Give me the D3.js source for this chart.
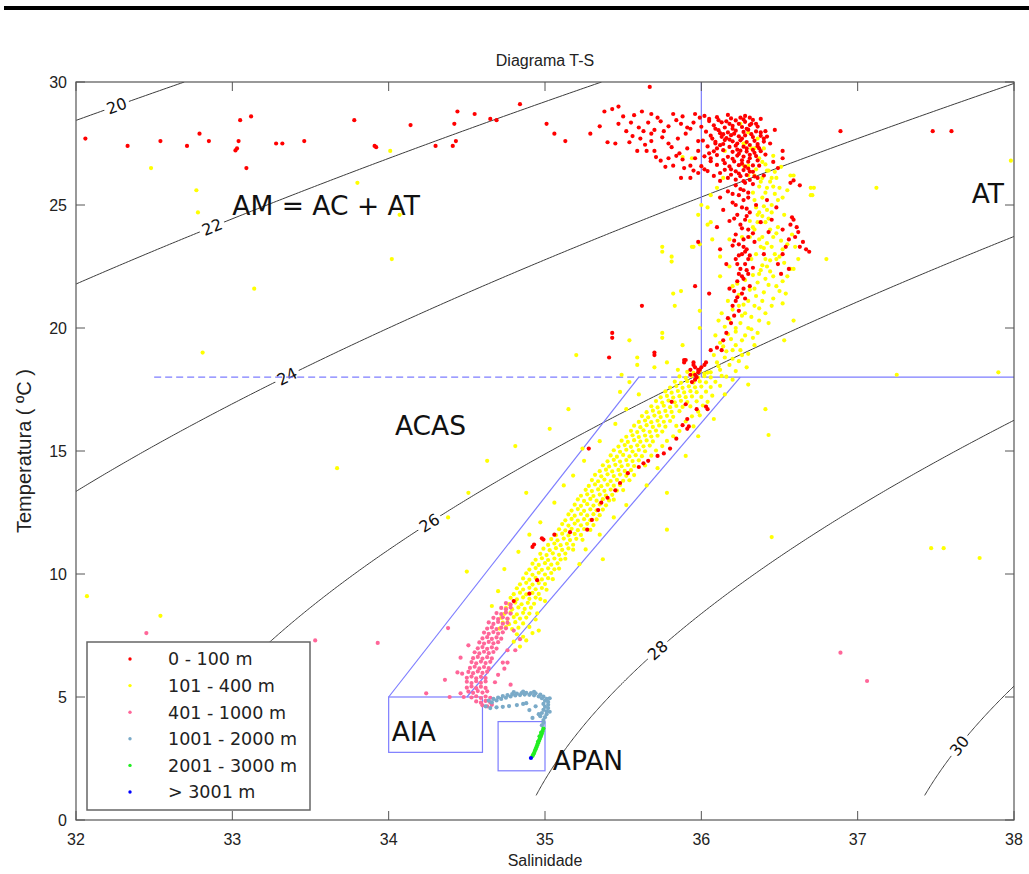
<!DOCTYPE html>
<meta charset="utf-8">
<style>
body { margin: 0; background: #fff; }
.tick { font-family: "Liberation Sans", Arial, sans-serif; font-size: 16px; fill: #222; }
.mass { font-family: "DejaVu Sans", Verdana, sans-serif; font-size: 26.5px; fill: #111; }
.clab { font-family: "DejaVu Sans", Verdana, sans-serif; font-size: 16px; fill: #111; }
.leg { font-family: "DejaVu Sans", Verdana, sans-serif; font-size: 17.5px; fill: #222; }
</style>
<body>
<script src="https://d3js.org/d3.v7.min.js"></script>
<script>

// axis ticks
var salTicks = [32, 33, 34, 35, 36, 37, 38];
var tempTicks = [0, 5, 10, 15, 20, 25, 30];

// sigma-t isolines and the salinity where each label sits
var sigmaLevels = [20, 22, 24, 26, 28, 30];
var sigmaLabelSal = [32.26, 32.87, 33.35, 34.26, 35.72, 37.65];

// depth classes
var depthLabels = ["0 - 100 m", "101 - 400 m", "401 - 1000 m", "1001 - 2000 m", "2001 - 3000 m", "> 3001 m"];
var depthColors = ["#ff0000", "#ffff00", "#ff6699", "#7aaac8", "#22ee22", "#0000ff"];

// water masses
var massLabels = ["AM = AC + AT", "AT", "ACAS", "AIA", "APAN"];
var massS = [33.0, 37.73, 34.04, 34.02, 35.05];
var massT = [24.6, 25.1, 15.65, 3.2, 2.03];

// water mass limits (salinity, temperature)
var frontDashed = [[32.5, 18], [36, 18]];
var frontSolid = [[[36, 18], [38, 18]], [[36, 18], [36, 30]]];
var acasEdges = [[[34.0, 5], [35.6, 18]], [[34.5, 5], [36.25, 18]]];
var aiaBox = [34.0, 34.6, 2.75, 5.0];
var apanBox = [34.7, 35.0, 2.0, 4.0];

// S, T pairs
var d0_100 = [
32.06,27.70, 32.33,27.40, 32.54,27.60, 32.71,27.40, 32.79,27.90, 32.85,27.60, 33.03,27.30, 33.02,27.22, 33.04,27.60, 33.05,28.45,
33.12,28.60, 33.09,26.50, 33.28,27.50, 33.32,27.50, 33.46,27.60, 33.78,28.45, 33.91,27.40, 33.92,27.35, 34.14,28.25, 34.30,27.40,
34.41,27.40, 34.42,28.30, 34.44,28.80, 34.43,27.60, 34.55,28.70, 34.65,28.50, 34.84,29.10, 34.69,28.45, 35.01,28.30, 35.06,27.90,
35.13,27.60, 35.29,27.90, 35.35,28.20, 35.43,28.90, 35.67,29.80, 36.89,28.00, 37.48,28.00, 37.60,28.00,
35.38,28.80, 35.47,29.00, 35.47,28.30, 35.57,28.65, 35.62,28.80, 35.68,28.70, 35.72,28.55, 35.45,27.50, 35.54,27.55, 35.63,28.00,
35.68,27.90, 35.59,27.20, 35.65,27.20, 35.70,27.20, 35.74,26.80, 35.79,26.90, 35.84,27.00, 35.87,26.10, 35.93,26.10, 35.89,26.50,
35.79,27.50, 35.85,27.70, 35.79,28.20, 35.74,28.40, 35.87,28.30, 35.93,28.10, 35.91,27.30, 35.96,26.90, 35.61,27.70, 35.52,28.00,
35.68,27.60, 35.82,28.70, 35.88,28.60, 35.96,28.70, 35.93,26.60, 35.82,26.60, 35.86,27.10, 35.40,27.55, 35.50,28.60, 35.76,28.00,
35.98,27.60, 35.95,28.35, 35.71,26.95, 35.66,28.35,
35.55,28.35, 35.60,28.15, 35.70,28.05, 35.75,27.75, 35.81,27.35, 35.64,27.45, 35.56,27.80, 35.90,27.90, 35.84,28.45, 35.99,28.55,
35.98,27.20, 35.95,26.40, 35.88,26.85, 35.77,26.55, 35.91,28.15,
36.02,28.62, 36.10,28.57, 36.17,28.66, 36.25,28.55, 36.05,28.41, 36.13,28.36, 36.22,28.44, 36.28,28.38, 36.33,28.46,
36.00,28.18, 36.08,28.24, 36.15,28.15, 36.20,28.22, 36.26,28.17, 36.31,28.25, 36.36,28.19,
36.03,27.98, 36.11,28.04, 36.17,27.95, 36.22,28.02, 36.27,27.97, 36.30,28.06, 36.35,27.99,
36.06,27.82, 36.13,27.77, 36.19,27.84, 36.24,27.79, 36.28,27.83, 36.33,27.76, 36.38,27.81, 36.42,27.78,
36.01,27.62, 36.09,27.57, 36.15,27.64, 36.20,27.59, 36.25,27.63, 36.29,27.56, 36.34,27.61, 36.40,27.58,
36.04,27.38, 36.12,27.43, 36.18,27.36, 36.22,27.41, 36.27,27.37, 36.31,27.44, 36.36,27.39,
36.08,27.18, 36.14,27.23, 36.20,27.16, 36.25,27.21, 36.29,27.17, 36.33,27.24, 36.38,27.19,
36.02,26.98, 36.10,27.03, 36.17,26.96, 36.23,27.01, 36.27,26.97, 36.31,27.04, 36.35,26.99,
36.06,26.78, 36.14,26.83, 36.21,26.77, 36.26,26.82, 36.30,26.76, 36.36,26.81,
36.00,26.58, 36.10,26.63, 36.18,26.57, 36.24,26.62, 36.28,26.56, 36.33,26.61,
36.04,26.38, 36.15,26.43, 36.22,26.37, 36.27,26.42, 36.31,26.36,
36.08,26.18, 36.19,26.23, 36.25,26.17, 36.29,26.22, 36.34,26.16,
36.12,25.98, 36.22,26.03, 36.27,25.97, 36.31,26.02,
36.19,28.52, 36.24,28.30, 36.29,28.10, 36.21,27.90, 36.26,27.70, 36.23,27.50, 36.29,27.30, 36.24,27.08, 36.20,26.88, 36.26,26.68,
36.30,26.48, 36.24,26.28, 36.16,27.72, 36.14,27.48, 36.12,27.92, 36.18,28.30, 36.32,27.88, 36.36,27.48, 36.34,27.12, 36.31,26.90,
36.28,28.62, 36.07,27.70,
36.05,28.50, 36.11,28.45, 36.16,28.40, 36.27,28.48, 36.32,28.30, 36.09,28.10, 36.14,27.88, 36.18,27.66, 36.23,27.25, 36.10,27.30,
36.05,27.10, 36.15,26.70, 36.19,26.45, 36.12,26.30, 36.17,26.10, 36.02,26.45, 35.98,26.30, 36.06,26.90, 36.09,27.50, 36.20,28.10,
36.31,28.55, 36.35,28.30, 36.38,27.95, 36.40,27.70, 36.37,27.30, 36.41,27.05, 36.37,26.60, 36.33,26.35, 36.36,26.10,
36.41,28.00, 36.46,26.75, 36.52,27.20, 36.52,26.90, 36.49,26.50, 36.59,26.00, 36.63,25.80, 36.57,25.90, 36.40,26.20, 36.44,27.50,
36.47,28.05, 36.38,28.50,
36.22,25.80, 36.27,25.60, 36.24,25.40, 36.30,25.30, 36.20,25.10, 36.26,24.90, 36.31,24.70, 36.23,24.60, 36.28,24.40, 36.25,24.20,
36.30,24.00, 36.22,23.80, 36.27,23.60, 36.24,23.40, 36.29,23.20, 36.26,23.00, 36.22,22.80, 36.28,22.60, 36.25,22.40, 36.30,22.20,
36.27,22.00, 36.31,21.70, 36.26,21.40, 36.22,21.10, 36.20,20.90, 36.21,20.50, 36.19,20.20, 36.16,19.80, 36.14,19.50, 36.10,19.20,
36.06,19.10, 36.03,18.60, 35.99,18.30, 35.96,18.10, 35.97,18.00,
36.28,25.90, 36.25,25.65, 36.30,25.50, 36.20,25.45, 36.27,25.20, 36.22,25.00, 36.29,24.85, 36.21,24.45, 36.26,24.05, 36.30,23.70,
36.21,23.55, 36.27,23.30, 36.31,22.95, 36.23,22.60, 36.29,22.35, 36.24,22.20, 36.21,21.50, 36.27,21.60, 36.23,21.25,
36.12,25.30, 36.14,24.80, 36.10,24.10, 36.12,23.20, 36.16,22.60, 36.35,25.00, 36.42,25.20, 36.48,24.90, 36.38,24.30, 36.34,23.50,
36.40,23.00, 35.96,21.70, 35.62,20.90, 35.43,19.60, 35.70,18.90, 35.89,18.60, 35.93,18.30, 36.05,21.40, 35.98,23.50, 36.28,23.10,
36.30,22.80, 36.26,22.10, 36.18,21.60, 36.13,19.10, 36.02,18.50, 35.96,18.40, 36.33,25.85, 36.17,25.55, 36.29,24.55, 36.18,24.35,
36.33,23.85, 36.20,23.35, 36.24,22.95, 36.33,22.45, 36.23,21.90, 36.28,21.20, 36.24,20.70, 36.17,20.40,
36.45,24.40, 36.52,24.00, 36.43,23.90, 36.60,23.70, 36.65,23.50, 36.56,23.60, 36.52,23.00, 36.51,22.20, 36.59,24.40, 36.61,24.10,
36.63,23.30, 36.67,23.20, 36.69,23.10, 36.58,24.50, 36.54,23.30, 36.49,22.60, 36.56,22.40, 36.62,23.90, 36.57,24.20,
35.95,18.50, 35.98,18.20, 35.93,18.10, 36.00,18.40, 35.90,18.70, 35.96,17.90, 35.94,17.80,
36.04,16.70, 35.97,16.70, 35.91,15.90, 35.80,15.10, 35.72,14.80, 35.60,14.35, 35.53,14.10, 35.45,13.40, 35.40,13.10, 35.34,12.60,
35.27,11.80, 35.16,11.70, 34.99,11.40, 34.93,11.20, 34.95,9.75, 34.90,9.20, 35.81,17.00, 35.90,16.90, 35.91,16.30, 35.95,18.60,
35.98,18.30, 35.89,18.70, 35.70,19.00, 35.43,19.80, 35.28,15.10, 34.92,11.10, 34.98,11.45, 34.80,8.90, 35.84,15.50, 35.76,14.90,
35.66,14.60, 35.36,12.90, 35.30,12.20, 35.06,11.60, 35.92,16.00, 36.03,16.80, 35.41,18.80, 35.88,16.05, 35.63,14.50, 35.48,13.70
];

var d101_400 = [
32.48,26.50, 32.77,25.60, 32.78,24.70, 33.14,21.60, 33.80,25.90, 34.01,27.20, 34.07,24.60, 34.02,22.80, 37.12,25.70, 37.98,26.80,
37.25,18.10, 37.90,18.20, 36.59,20.30, 36.53,19.50, 36.80,22.80, 36.71,25.40, 36.72,25.70, 32.54,8.30, 32.07,9.10, 32.81,19.00,
33.67,14.30, 37.47,11.05, 37.55,11.05, 37.78,10.65, 35.15,16.70, 35.03,15.90, 34.81,15.20, 34.63,14.60, 34.51,13.30, 34.38,12.30,
34.50,10.10, 34.88,13.30, 35.24,15.10, 35.78,13.30, 35.78,11.80, 35.37,10.60, 36.43,15.65, 36.41,16.70, 36.36,19.80, 35.59,18.80,
35.54,17.80, 35.48,17.40, 35.75,19.80, 35.88,19.30, 36.45,11.50, 35.20,18.90,
35.75,23.10, 35.81,22.70, 35.82,21.40, 35.87,21.50, 35.83,20.90, 35.75,19.60, 35.54,19.50, 35.59,18.50, 35.49,18.10, 36.04,24.20,
35.98,24.60, 36.06,25.40, 36.04,24.90, 35.95,23.30, 35.99,20.70, 35.99,20.00, 35.94,23.30, 35.99,23.40, 36.06,24.30, 36.00,25.00,
36.10,25.70, 36.14,26.10, 35.94,26.90, 35.88,26.95, 35.75,23.30, 35.81,22.90,
36.28,27.50, 36.34,27.30, 36.37,26.90, 36.30,26.60, 36.34,26.20, 36.39,26.10, 36.43,26.40, 36.42,25.70, 36.48,26.10, 36.50,25.70,
36.59,26.20, 36.39,25.30, 36.37,24.70, 36.45,24.70, 36.41,24.30, 36.34,24.00, 36.37,23.60, 36.45,23.30, 36.48,22.80, 36.41,22.80,
36.52,23.20, 36.60,23.30, 36.62,22.80, 36.59,22.40, 36.55,22.10, 36.32,22.80, 36.37,22.20, 36.41,22.00, 36.48,21.70, 36.54,21.40,
36.52,21.00, 36.45,20.90, 36.39,21.10, 36.34,20.90, 36.28,20.60, 36.30,20.00, 36.37,20.30, 36.43,20.20, 36.24,20.90, 36.22,20.00,
36.17,19.75, 36.26,19.50, 36.33,19.60, 36.20,19.10, 36.26,18.90, 36.15,18.80, 36.11,18.45, 36.06,18.20, 36.02,18.15, 36.13,18.05,
36.22,18.25, 36.29,18.40, 36.30,17.70,
36.33,25.50, 36.34,25.20, 36.35,24.90, 36.36,24.60, 36.36,24.30, 36.33,24.10, 36.42,26.40, 36.45,26.10, 36.57,26.20, 36.70,25.70,
36.70,25.40, 36.52,25.30, 36.45,25.00, 36.58,23.80, 36.55,23.40, 36.46,23.70, 36.39,23.70, 36.38,23.30, 36.42,22.50, 36.50,22.90,
36.57,22.40, 36.18,23.60, 36.26,23.70, 36.12,22.90, 36.12,22.10, 36.23,21.80, 36.07,23.60, 36.18,22.50, 36.30,26.20, 36.27,26.60,
36.32,27.30, 36.27,27.50, 36.15,27.20,
36.10,18.60, 36.18,18.50, 36.24,18.65, 36.08,18.90, 36.16,19.05, 36.22,19.30, 36.12,19.40, 36.19,19.55, 36.28,19.70, 36.09,19.70,
36.15,20.05, 36.25,20.20, 36.18,20.35, 36.32,20.45, 36.13,20.60, 36.20,20.75, 36.27,20.95, 36.35,21.30, 36.17,21.10, 36.24,21.35,
36.31,21.55, 36.40,21.45, 36.20,21.70, 36.36,21.85, 36.28,21.95, 36.44,22.30, 36.33,22.15, 36.39,22.55, 36.47,23.00, 36.35,23.00,
36.42,23.45, 36.31,23.70, 36.49,24.10, 36.43,24.45, 36.31,24.35, 36.40,24.95, 36.47,25.45, 36.37,25.75, 36.55,25.60, 36.44,25.95,
36.51,26.55, 36.39,26.75, 36.46,27.00, 36.40,27.30, 36.36,27.70, 36.30,27.95, 36.25,28.30,
36.12,18.30, 36.20,18.75, 36.30,18.95, 36.14,19.25, 36.25,19.10, 36.34,19.30, 36.22,19.85, 36.32,19.95, 36.11,20.30, 36.26,20.50,
36.41,20.60, 36.37,20.80, 36.30,21.10, 36.46,21.20, 36.50,21.50, 36.43,21.75, 36.34,21.60, 36.52,21.90, 36.46,22.10, 36.38,22.35,
36.53,22.65, 36.44,22.75, 36.51,23.55, 36.48,23.85, 36.40,23.25, 36.44,24.00, 36.53,24.60, 36.39,24.55, 36.42,24.80, 36.49,25.20,
36.41,25.50, 36.46,25.75, 36.38,25.95, 36.35,26.45, 36.41,26.65, 36.47,26.35,
34.71,7.78, 34.75,7.84, 34.79,7.76, 34.83,7.82, 34.73,8.02, 34.77,7.96, 34.81,8.04, 34.86,7.99,
34.72,8.22, 34.76,8.17, 34.80,8.25, 34.84,8.19, 34.88,8.23, 34.74,8.38, 34.78,8.44, 34.82,8.36, 34.86,8.42, 34.90,8.39,
34.75,8.62, 34.79,8.57, 34.83,8.64, 34.87,8.58, 34.91,8.63, 34.77,8.78, 34.81,8.84, 34.85,8.77, 34.89,8.83, 34.93,8.79,
34.78,9.03, 34.82,8.97, 34.86,9.05, 34.90,8.99, 34.94,9.04, 34.97,8.98, 34.80,9.18, 34.84,9.24, 34.88,9.17, 34.92,9.23, 34.96,9.19,
34.82,9.42, 34.86,9.37, 34.90,9.44, 34.94,9.38, 34.98,9.43, 35.01,9.36, 34.84,9.58, 34.88,9.64, 34.92,9.57, 34.96,9.63, 35.00,9.59,
34.86,9.82, 34.90,9.77, 34.94,9.84, 34.98,9.78, 35.02,9.83, 35.05,9.79, 34.88,10.03, 34.92,9.97, 34.96,10.05, 35.00,9.98, 35.04,10.04,
34.90,10.18, 34.94,10.24, 34.98,10.17, 35.02,10.23, 35.06,10.19, 35.09,10.22, 34.92,10.42, 34.96,10.37, 35.00,10.44, 35.04,10.38, 35.08,10.43,
34.94,10.58, 34.98,10.64, 35.02,10.57, 35.06,10.63, 35.10,10.59, 35.13,10.62, 34.97,10.82, 35.01,10.77, 35.05,10.84, 35.09,10.78, 35.13,10.83,
34.99,11.03, 35.03,10.97, 35.07,11.05, 35.11,10.98, 35.15,11.04, 35.18,10.99, 35.02,11.18, 35.06,11.24, 35.10,11.17, 35.14,11.23, 35.18,11.19,
35.04,11.42, 35.08,11.37, 35.12,11.44, 35.16,11.38, 35.20,11.43, 35.24,11.39, 35.07,11.58, 35.11,11.64, 35.15,11.57, 35.19,11.63, 35.23,11.59,
35.09,11.82, 35.13,11.77, 35.17,11.84, 35.21,11.78, 35.25,11.83, 35.29,11.79, 35.11,12.03, 35.15,11.97, 35.19,12.05, 35.23,11.98, 35.27,12.04, 35.31,11.99,
35.13,12.18, 35.17,12.24, 35.21,12.17, 35.25,12.23, 35.29,12.19, 35.33,12.22, 35.15,12.42, 35.19,12.37, 35.23,12.44, 35.27,12.38, 35.31,12.43, 35.35,12.39,
35.17,12.58, 35.21,12.64, 35.25,12.57, 35.29,12.63, 35.33,12.59, 35.37,12.62, 35.19,12.82, 35.23,12.77, 35.27,12.84, 35.31,12.78, 35.35,12.83, 35.39,12.79,
35.21,13.03, 35.25,12.97, 35.29,13.05, 35.33,12.98, 35.37,13.04, 35.41,12.99, 35.44,13.02, 35.23,13.18, 35.27,13.24, 35.31,13.17, 35.35,13.23, 35.39,13.19, 35.43,13.22,
35.26,13.42, 35.30,13.37, 35.34,13.44, 35.38,13.38, 35.42,13.43, 35.46,13.39, 35.50,13.41, 35.28,13.58, 35.32,13.64, 35.36,13.57, 35.40,13.63, 35.44,13.59, 35.48,13.62,
35.30,13.82, 35.34,13.77, 35.38,13.84, 35.42,13.78, 35.46,13.83, 35.50,13.79, 35.54,13.81, 35.32,14.03, 35.36,13.97, 35.40,14.05, 35.44,13.98, 35.48,14.04, 35.52,13.99, 35.57,14.02,
35.35,14.18, 35.39,14.24, 35.43,14.17, 35.47,14.23, 35.51,14.19, 35.55,14.22, 35.37,14.42, 35.41,14.37, 35.45,14.44, 35.49,14.38, 35.53,14.43, 35.57,14.39, 35.64,14.41,
35.40,14.58, 35.44,14.64, 35.48,14.57, 35.52,14.63, 35.56,14.59, 35.60,14.62, 35.42,14.82, 35.46,14.77, 35.50,14.84, 35.54,14.78, 35.58,14.83, 35.62,14.79, 35.68,14.81,
35.44,15.03, 35.48,14.97, 35.52,15.05, 35.56,14.98, 35.60,15.04, 35.64,14.99, 35.71,15.02, 35.47,15.18, 35.51,15.24, 35.55,15.17, 35.59,15.23, 35.63,15.19, 35.67,15.22, 35.75,15.20,
35.49,15.42, 35.53,15.37, 35.57,15.44, 35.61,15.38, 35.65,15.43, 35.69,15.39, 35.78,15.41, 35.52,15.58, 35.56,15.64, 35.60,15.57, 35.64,15.63, 35.68,15.59, 35.72,15.62, 35.82,15.60,
35.55,15.82, 35.59,15.77, 35.63,15.84, 35.67,15.78, 35.71,15.83, 35.75,15.79, 35.86,15.81, 35.57,16.03, 35.61,15.97, 35.65,16.05, 35.69,15.98, 35.73,16.04, 35.77,15.99, 35.84,16.02, 35.95,16.00,
35.60,16.18, 35.64,16.24, 35.68,16.17, 35.72,16.23, 35.76,16.19, 35.80,16.22, 35.90,16.20, 35.62,16.42, 35.66,16.37, 35.70,16.44, 35.74,16.38, 35.78,16.43, 35.82,16.39, 35.94,16.41, 35.99,16.45,
35.65,16.58, 35.69,16.64, 35.73,16.57, 35.77,16.63, 35.81,16.59, 35.86,16.62, 35.98,16.60, 35.68,16.82, 35.72,16.77, 35.76,16.84, 35.80,16.78, 35.84,16.83, 35.88,16.79, 35.93,16.81, 36.01,16.85,
35.71,17.03, 35.75,16.97, 35.79,17.05, 35.83,16.98, 35.87,17.04, 35.91,16.99, 35.97,17.02, 36.04,17.00, 35.74,17.18, 35.78,17.24, 35.82,17.17, 35.86,17.23, 35.90,17.19, 35.94,17.22, 36.00,17.20, 36.07,17.25,
35.77,17.42, 35.81,17.37, 35.85,17.44, 35.89,17.38, 35.93,17.43, 35.97,17.39, 36.03,17.41, 35.80,17.58, 35.84,17.64, 35.88,17.57, 35.92,17.63, 35.96,17.59, 36.00,17.62, 36.06,17.60, 36.12,17.65,
35.83,17.82, 35.87,17.77, 35.91,17.84, 35.95,17.78, 35.99,17.83, 36.03,17.79, 36.09,17.81, 35.86,18.03, 35.90,17.97, 35.94,18.05, 35.98,17.98, 36.02,18.04, 36.06,17.99, 36.16,18.02,
35.91,18.22, 35.95,18.18, 35.99,18.25, 36.04,18.19, 35.85,18.30,
34.70,9.30, 34.74,10.20, 34.83,10.90, 35.22,10.40, 35.26,11.00, 34.90,11.60, 35.35,11.60, 34.97,12.10, 35.44,12.30, 35.06,12.90,
35.52,12.80, 35.12,13.60, 35.18,14.00, 35.65,13.60, 35.25,14.60, 35.72,14.30, 35.35,15.40, 35.45,16.10, 35.52,16.70, 35.60,17.30,
35.90,14.80, 35.98,15.60, 36.08,16.30, 36.15,17.30, 36.20,17.90, 35.70,18.40, 35.78,18.60, 34.66,8.70, 34.95,8.40, 35.00,8.90,
34.92,7.60, 34.88,7.30, 34.84,7.05, 34.96,7.70, 34.86,7.45, 34.90,7.85, 34.82,7.55, 34.94,8.15, 34.80,7.25
];

var d401_1000 = [
34.75,8.82, 34.78,8.76, 34.72,8.62, 34.75,8.57, 34.78,8.64, 34.69,8.41, 34.72,8.37, 34.75,8.44, 34.78,8.39,
34.67,8.22, 34.70,8.17, 34.73,8.24, 34.76,8.19, 34.64,8.03, 34.67,7.97, 34.70,8.05, 34.73,7.98, 34.76,8.02,
34.63,7.78, 34.66,7.83, 34.69,7.76, 34.72,7.82, 34.75,7.79, 34.61,7.62, 34.64,7.57, 34.67,7.64, 34.70,7.58, 34.73,7.63,
34.60,7.38, 34.63,7.43, 34.66,7.36, 34.69,7.42, 34.72,7.37, 34.58,7.22, 34.61,7.17, 34.64,7.24, 34.67,7.18, 34.70,7.23,
34.57,6.98, 34.60,7.03, 34.63,6.96, 34.66,7.02, 34.69,6.97, 34.55,6.82, 34.58,6.77, 34.61,6.84, 34.64,6.78, 34.67,6.83,
34.54,6.58, 34.57,6.63, 34.60,6.56, 34.63,6.62, 34.66,6.57, 34.53,6.42, 34.56,6.37, 34.59,6.44, 34.62,6.38, 34.65,6.43,
34.52,6.18, 34.55,6.23, 34.58,6.16, 34.61,6.22, 34.64,6.17, 34.51,6.02, 34.54,5.97, 34.57,6.04, 34.60,5.98, 34.63,6.03,
34.50,5.78, 34.53,5.83, 34.56,5.76, 34.59,5.82, 34.62,5.77, 34.50,5.62, 34.53,5.57, 34.56,5.64, 34.59,5.58, 34.62,5.63,
34.50,5.38, 34.53,5.43, 34.56,5.36, 34.59,5.42, 34.62,5.37, 34.51,5.22, 34.54,5.17, 34.57,5.24, 34.60,5.18, 34.63,5.23,
34.53,4.98, 34.56,5.03, 34.59,4.96, 34.62,5.02, 34.65,4.97, 34.56,4.82, 34.59,4.77, 34.62,4.84, 34.65,4.78,
34.60,4.66, 34.63,4.62, 34.66,4.68,
33.93,7.20, 34.38,7.80, 34.51,7.10, 34.44,6.00, 34.36,5.70, 34.24,5.15, 34.39,5.00, 34.46,5.15, 34.48,5.00, 34.78,5.50,
34.73,6.40, 34.76,6.90, 32.45,7.60, 33.53,7.30, 36.89,6.80, 37.06,5.65, 34.81,6.90, 34.76,6.40, 34.74,6.15, 34.70,5.90,
34.68,5.60, 34.84,7.35, 34.80,7.70, 34.46,6.60, 34.47,5.95
];

var d1001_2000 = [
34.64,4.85, 34.67,4.92, 34.70,4.98, 34.73,5.04, 34.76,5.08, 34.79,5.12, 34.82,5.14, 34.85,5.16, 34.88,5.17, 34.91,5.16,
34.94,5.15, 34.97,5.10, 34.99,5.02, 35.01,4.92, 35.02,4.80, 35.02,4.68, 35.02,4.55, 35.01,4.42, 35.01,4.30, 35.00,4.18,
34.99,4.06, 34.99,3.95, 34.98,3.85,
34.66,4.78, 34.69,4.86, 34.72,4.92, 34.75,4.97, 34.78,5.02, 34.81,5.06, 34.84,5.08, 34.87,5.10, 34.90,5.09, 34.93,5.07,
34.96,5.02, 34.98,4.95, 35.00,4.85, 34.99,4.72, 35.00,4.60, 34.99,4.48, 34.98,4.35, 34.97,4.22,
34.62,4.62, 34.65,4.55, 34.69,4.58, 34.73,4.60, 34.77,4.63, 34.82,4.67, 34.86,4.72, 34.88,4.75, 34.92,4.15, 34.90,4.47,
34.94,4.62, 34.96,4.30, 35.03,4.95, 34.80,5.20, 34.86,5.22, 34.93,5.21, 35.03,4.40
];

var d2001_3000 = [
34.99,3.72, 34.985,3.62, 34.98,3.52, 34.975,3.44, 34.97,3.36, 34.965,3.28, 34.96,3.20, 34.955,3.12, 34.95,3.04, 34.945,2.96,
34.94,2.88, 34.935,2.80, 34.93,2.72, 34.925,2.66, 34.92,2.60, 34.965,3.40, 34.975,3.55, 34.955,3.18
];

var d3001 = [34.91, 2.52];

function pairs(a) {
  var out = [];
  for (var i = 0; i < a.length; i += 2) out.push([a[i], a[i + 1]]);
  return out;
}

var series = [d0_100, d101_400, d401_1000, d1001_2000, d2001_3000, d3001].map(pairs);

var x = d3.scaleLinear().domain([32, 38]).range([76, 1014]);
var y = d3.scaleLinear().domain([0, 30]).range([820, 82]);

var svg = d3.select("body").append("svg")
    .attr("width", 1029)
    .attr("height", 874);

// black rule at top of the page
svg.append("rect").attr("x", 4).attr("y", 6).attr("width", 1025).attr("height", 4).attr("fill", "#000");

svg.append("defs").append("clipPath").attr("id", "plotclip")
  .append("rect")
    .attr("x", x(32)).attr("y", y(30))
    .attr("width", x(38) - x(32)).attr("height", y(0) - y(30));

var plot = svg.append("g").attr("clip-path", "url(#plotclip)");

// UNESCO 1980 density at surface pressure, minus 1000
function sigmaT(s, t) {
  var rw = 999.842594 + 6.793952e-2 * t - 9.095290e-3 * t * t + 1.001685e-4 * t * t * t
         - 1.120083e-6 * t * t * t * t + 6.536332e-9 * t * t * t * t * t;
  var a = 0.824493 - 4.0899e-3 * t + 7.6438e-5 * t * t - 8.2467e-7 * t * t * t + 5.3875e-9 * t * t * t * t;
  var b = -5.72466e-3 + 1.0227e-4 * t - 1.6546e-6 * t * t;
  return rw + a * s + b * Math.pow(s, 1.5) + 4.8314e-4 * s * s - 1000;
}

function salFor(level, t) {
  var lo = 20, hi = 45;
  for (var k = 0; k < 50; k++) {
    var mid = (lo + hi) / 2;
    if (sigmaT(mid, t) < level) lo = mid; else hi = mid;
  }
  return (lo + hi) / 2;
}

function tempFor(level, s) {
  var lo = -2, hi = 40;
  for (var k = 0; k < 50; k++) {
    var mid = (lo + hi) / 2;
    if (sigmaT(s, mid) > level) lo = mid; else hi = mid;
  }
  return (lo + hi) / 2;
}

var line = d3.line()
    .x(function(d) { return x(d[0]); })
    .y(function(d) { return y(d[1]); });

var temps = d3.range(20, 601).map(function(i) { return i / 20; });

sigmaLevels.forEach(function(lev) {
  var pts = temps.map(function(t) { return [salFor(lev, t), t]; });
  plot.append("path")
    .attr("d", line(pts))
    .attr("fill", "none")
    .attr("stroke", "#3c3c3c")
    .attr("stroke-width", 1);
});

// contour labels, with a gap in the line
sigmaLevels.forEach(function(lev, i) {
  var s = sigmaLabelSal[i], t = tempFor(lev, s);
  var t1 = tempFor(lev, s - 0.02), t2 = tempFor(lev, s + 0.02);
  var ang = Math.atan2(y(t2) - y(t1), x(s + 0.02) - x(s - 0.02)) * 180 / Math.PI;
  var g = plot.append("g")
    .attr("transform", "translate(" + x(s) + "," + y(t) + ") rotate(" + ang + ")");
  g.append("rect")
    .attr("x", -13).attr("y", -8).attr("width", 26).attr("height", 16)
    .attr("fill", "#fff");
  g.append("text")
    .attr("class", "clab")
    .attr("text-anchor", "middle")
    .attr("dy", "0.36em")
    .text(lev);
});

// water mass limits
var blue = "#7d7dff";
plot.append("path").attr("d", line(frontDashed))
  .attr("fill", "none").attr("stroke", blue).attr("stroke-width", 1.2).attr("stroke-dasharray", "7,4");
frontSolid.concat(acasEdges).forEach(function(seg) {
  plot.append("path").attr("d", line(seg))
    .attr("fill", "none").attr("stroke", blue).attr("stroke-width", 1.2);
});
[aiaBox, apanBox].forEach(function(b) {
  plot.append("rect")
    .attr("x", x(b[0])).attr("y", y(b[3]))
    .attr("width", x(b[1]) - x(b[0])).attr("height", y(b[2]) - y(b[3]))
    .attr("fill", "none").attr("stroke", blue).attr("stroke-width", 1.2);
});

// observations, shallow classes first
[1, 0, 2, 3, 4, 5].forEach(function(k) {
  plot.append("g").selectAll("circle")
    .data(series[k])
    .enter().append("circle")
      .attr("cx", function(d) { return x(d[0]); })
      .attr("cy", function(d) { return y(d[1]); })
      .attr("r", 2.1)
      .attr("fill", depthColors[k]);
});

// water mass names
massLabels.forEach(function(m, i) {
  svg.append("text")
    .attr("class", "mass")
    .attr("x", x(massS[i]))
    .attr("y", y(massT[i]))
    .text(m);
});

// axes box and inward ticks
var axisColor = "#555";
svg.append("rect")
  .attr("x", x(32)).attr("y", y(30))
  .attr("width", x(38) - x(32)).attr("height", y(0) - y(30))
  .attr("fill", "none").attr("stroke", axisColor).attr("stroke-width", 1.2);

salTicks.forEach(function(s) {
  svg.append("line").attr("x1", x(s)).attr("x2", x(s)).attr("y1", y(0)).attr("y2", y(0) - 9).attr("stroke", axisColor);
  svg.append("line").attr("x1", x(s)).attr("x2", x(s)).attr("y1", y(30)).attr("y2", y(30) + 9).attr("stroke", axisColor);
  svg.append("text").attr("class", "tick")
    .attr("x", x(s)).attr("y", 845).attr("text-anchor", "middle").text(s);
});

tempTicks.forEach(function(t) {
  svg.append("line").attr("x1", x(32)).attr("x2", x(32) + 9).attr("y1", y(t)).attr("y2", y(t)).attr("stroke", axisColor);
  svg.append("line").attr("x1", x(38)).attr("x2", x(38) - 9).attr("y1", y(t)).attr("y2", y(t)).attr("stroke", axisColor);
  svg.append("text").attr("class", "tick")
    .attr("x", 67).attr("y", y(t) + 6).attr("text-anchor", "end").text(t);
});

svg.append("text").attr("class", "tick")
  .attr("x", 545).attr("y", 66).attr("text-anchor", "middle").text("Diagrama T-S");

svg.append("text").attr("class", "tick")
  .attr("x", 545).attr("y", 866).attr("text-anchor", "middle").text("Salinidade");

svg.append("text").attr("class", "tick")
  .attr("transform", "translate(31," + ((y(0) + y(30)) / 2) + ") rotate(-90)")
  .attr("text-anchor", "middle")
  .style("font-size", "20px")
  .text("Temperatura ( ºC )");

// legend
var legend = svg.append("g");
legend.append("rect")
  .attr("x", 87).attr("y", 642).attr("width", 223).attr("height", 168)
  .attr("fill", "#fff").attr("stroke", "#666").attr("stroke-width", 1.5);

depthLabels.forEach(function(lab, i) {
  var cy = 659 + i * 26.6;
  legend.append("circle").attr("cx", 130).attr("cy", cy).attr("r", 1.7).attr("fill", depthColors[i]);
  legend.append("text").attr("class", "leg").attr("x", 168).attr("y", cy + 6.3).text(lab);
});

</script>
</body>
